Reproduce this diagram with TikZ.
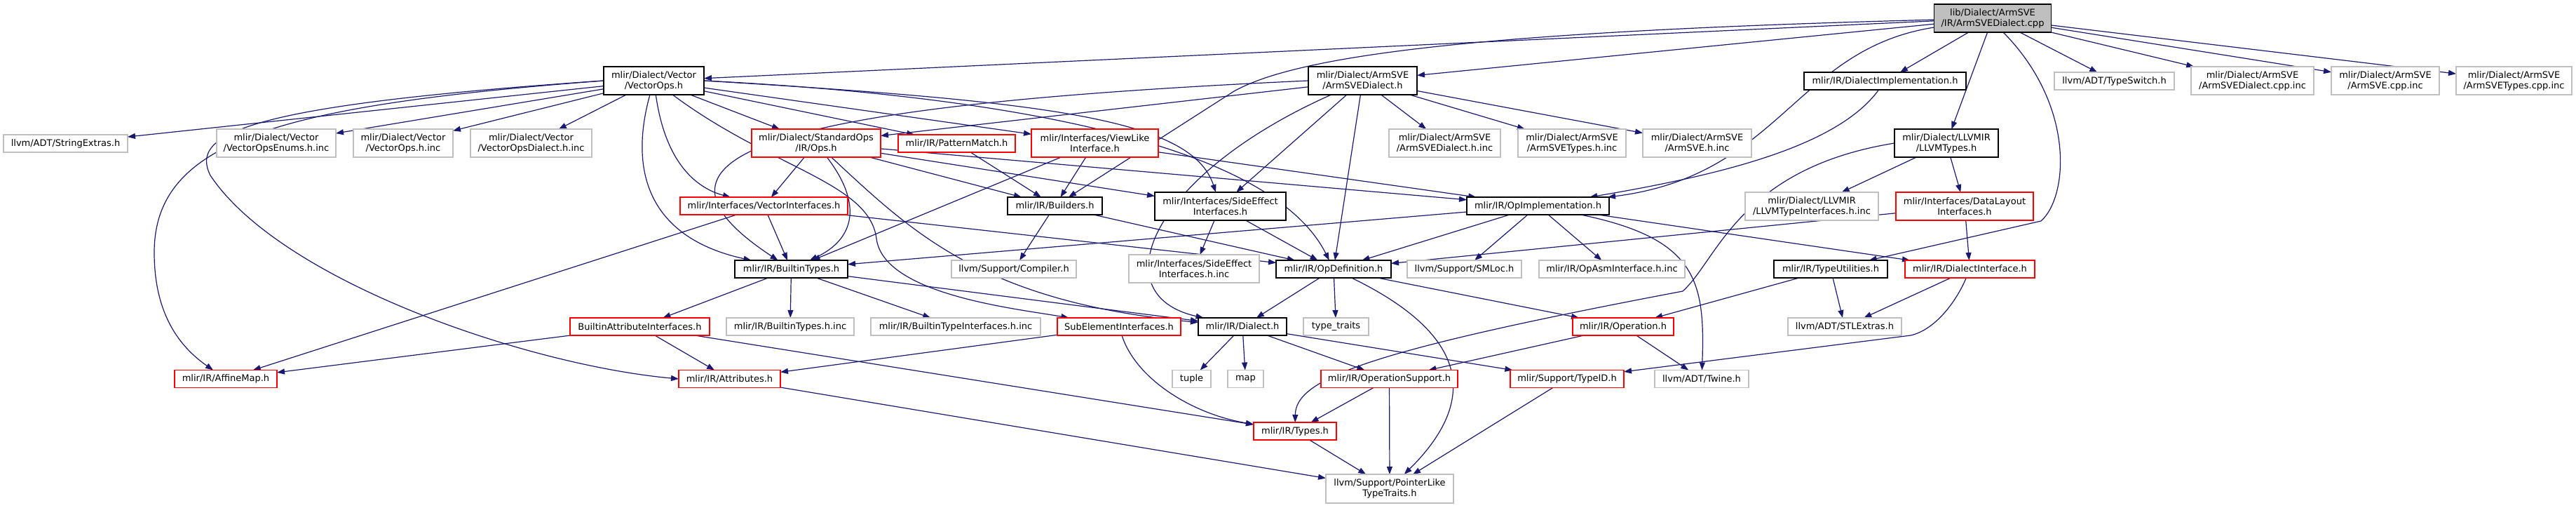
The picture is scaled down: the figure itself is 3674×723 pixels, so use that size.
\documentclass[tikz,border=0pt]{standalone}
\usepackage{fontspec}
\setsansfont{DejaVu Sans}
\usetikzlibrary{arrows.meta,backgrounds}
\definecolor{edgec}{HTML}{191970}
\definecolor{grayc}{HTML}{BFBFBF}
\definecolor{redc}{HTML}{FF0000}
\begin{document}
\begin{tikzpicture}[x=1pt,y=1pt,
  box/.style={fill=white, inner sep=0pt, outer sep=0pt, align=center,
    font=\sffamily\fontsize{13}{15}\selectfont},
  kbox/.style={box, draw=black, line width=1.5pt},
  rbox/.style={box, draw=redc, line width=1.5pt},
  gbox/.style={box, draw=grayc, line width=1.3pt},
  rootbox/.style={box, draw=black, fill=grayc, line width=1.5pt},
  one/.style={minimum height=25pt},
  two/.style={minimum height=40pt},
  e/.style={draw=edgec, line width=1.2pt, -{Triangle[length=11pt,width=8pt]}}
]
\useasboundingbox (0,0) rectangle (3674,-723);

% row 0
\node[rootbox, two, minimum width=167pt] (root) at (2842,-26) {lib/Dialect/ArmSVE\\/IR/ArmSVEDialect.cpp};
% row 1
\node[kbox, two, minimum width=143pt] (vops) at (932.5,-115) {mlir/Dialect/Vector\\/VectorOps.h};
\node[kbox, two, minimum width=155pt] (armh) at (1943.5,-115) {mlir/Dialect/ArmSVE\\/ArmSVEDialect.h};
\node[kbox, one, minimum width=231pt] (dimpl) at (2688.5,-115.5) {mlir/IR/DialectImplementation.h};
\node[gbox, one, minimum width=171pt] (tswitch) at (3015.5,-115.5) {llvm/ADT/TypeSwitch.h};
\node[gbox, two, minimum width=175pt] (cppa) at (3212.5,-115) {mlir/Dialect/ArmSVE\\/ArmSVEDialect.cpp.inc};
\node[gbox, two, minimum width=154pt] (cppb) at (3402,-115) {mlir/Dialect/ArmSVE\\/ArmSVE.cpp.inc};
\node[gbox, two, minimum width=165pt] (cppc) at (3585.5,-115) {mlir/Dialect/ArmSVE\\/ArmSVETypes.cpp.inc};
% row 2
\node[gbox, one, minimum width=177pt] (strext) at (93.5,-204.5) {llvm/ADT/StringExtras.h};
\node[gbox, two, minimum width=170pt] (enums) at (394,-204) {mlir/Dialect/Vector\\/VectorOpsEnums.h.inc};
\node[gbox, two, minimum width=142pt] (vopsinc) at (575,-204) {mlir/Dialect/Vector\\/VectorOps.h.inc};
\node[gbox, two, minimum width=173pt] (vdinc) at (757.5,-204) {mlir/Dialect/Vector\\/VectorOpsDialect.h.inc};
\node[rbox, two, minimum width=184pt] (ops) at (1164,-204) {mlir/Dialect/StandardOps\\/IR/Ops.h};
\node[rbox, one, minimum width=167pt] (pmatch) at (1364.5,-204.5) {mlir/IR/PatternMatch.h};
\node[rbox, two, minimum width=181pt] (viewlike) at (1561.5,-204) {mlir/Interfaces/ViewLike\\Interface.h};
\node[gbox, two, minimum width=159pt] (armdinc) at (2060.5,-204) {mlir/Dialect/ArmSVE\\/ArmSVEDialect.h.inc};
\node[gbox, two, minimum width=154pt] (armtinc) at (2242,-204) {mlir/Dialect/ArmSVE\\/ArmSVETypes.h.inc};
\node[gbox, two, minimum width=155pt] (armsinc) at (2420.5,-204) {mlir/Dialect/ArmSVE\\/ArmSVE.h.inc};
\node[kbox, two, minimum width=148pt] (llvmtypes) at (2776,-204) {mlir/Dialect/LLVMIR\\/LLVMTypes.h};
% row 3
\node[rbox, one, minimum width=239pt] (vint) at (1089.5,-293.5) {mlir/Interfaces/VectorInterfaces.h};
\node[kbox, one, minimum width=135pt] (builders) at (1504.5,-293.5) {mlir/IR/Builders.h};
\node[kbox, two, minimum width=187pt] (sideeff) at (1740.5,-294) {mlir/Interfaces/SideEffect\\Interfaces.h};
\node[kbox, one, minimum width=203pt] (opimpl) at (2193.5,-293.5) {mlir/IR/OpImplementation.h};
\node[gbox, two, minimum width=190pt] (llvmti) at (2584,-294) {mlir/Dialect/LLVMIR\\/LLVMTypeInterfaces.h.inc};
\node[rbox, two, minimum width=196pt] (datalayout) at (2802,-294) {mlir/Interfaces/DataLayout\\Interfaces.h};
% row 4
\node[kbox, one, minimum width=161pt] (btypes) at (1128.5,-383.5) {mlir/IR/BuiltinTypes.h};
\node[gbox, one, minimum width=178pt] (compiler) at (1446,-383.5) {llvm/Support/Compiler.h};
\node[gbox, two, minimum width=186pt] (sideinc) at (1703,-383) {mlir/Interfaces/SideEffect\\Interfaces.h.inc};
\node[kbox, one, minimum width=164pt] (opdef) at (1902,-383.5) {mlir/IR/OpDefinition.h};
\node[gbox, one, minimum width=163pt] (smloc) at (2088.5,-383.5) {llvm/Support/SMLoc.h};
\node[gbox, one, minimum width=208pt] (opasm) at (2299,-383.5) {mlir/IR/OpAsmInterface.h.inc};
\node[kbox, one, minimum width=162pt] (tutil) at (2611,-383.5) {mlir/IR/TypeUtilities.h};
\node[rbox, one, minimum width=185pt] (dint) at (2809.5,-383.5) {mlir/IR/DialectInterface.h};
% row 5
\node[rbox, one, minimum width=199pt] (bai) at (912.5,-465.5) {BuiltinAttributeInterfaces.h};
\node[gbox, one, minimum width=182pt] (btinc) at (1127,-465.5) {mlir/IR/BuiltinTypes.h.inc};
\node[gbox, one, minimum width=242pt] (btiinc) at (1363,-465.5) {mlir/IR/BuiltinTypeInterfaces.h.inc};
\node[rbox, one, minimum width=176pt] (subel) at (1596,-465.5) {SubElementInterfaces.h};
\node[kbox, one, minimum width=126pt] (dialect) at (1772,-465.5) {mlir/IR/Dialect.h};
\node[gbox, one, minimum width=93pt] (ttraits) at (1905.5,-465.5) {type\_traits};
\node[rbox, one, minimum width=144pt] (operation) at (2315,-465.5) {mlir/IR/Operation.h};
\node[gbox, one, minimum width=162pt] (stlext) at (2631,-465.5) {llvm/ADT/STLExtras.h};
% row 6
\node[rbox, one, minimum width=146pt] (affine) at (322,-540) {mlir/IR/AffineMap.h};
\node[rbox, one, minimum width=145pt] (attrs) at (1040.5,-540) {mlir/IR/Attributes.h};
\node[gbox, one, minimum width=55pt] (tuple) at (1699.5,-540) {tuple};
\node[gbox, one, minimum width=51pt] (map) at (1776.5,-540) {map};
\node[rbox, one, minimum width=195pt] (opsupport) at (1981.5,-540) {mlir/IR/OperationSupport.h};
\node[rbox, one, minimum width=162pt] (typeid) at (2235,-540) {mlir/Support/TypeID.h};
\node[gbox, one, minimum width=134pt] (twine) at (2427,-540) {llvm/ADT/Twine.h};
% row 7
\node[rbox, one, minimum width=118pt] (types) at (1847,-614.5) {mlir/IR/Types.h};
% row 8
\node[gbox, minimum height=41pt, minimum width=182pt] (ptrlike) at (1982,-696.5) {llvm/Support/PointerLike\\TypeTraits.h};

\begin{pgfonlayer}{background}
% ---- edges from root
\draw[e] (root) -- (vops);
\draw[e] (root) -- (armh);
\draw[e] (root) .. controls (2100,-45) and (1850,-80) .. (1760,-130) -- (builders);
\draw[e] (root) .. controls (2560,-70) and (2540,-250) .. (opimpl);
\draw[e] (root) -- (dimpl);
\draw[e] (root) -- (llvmtypes);
\draw[e] ([xshift=15pt]root.south) .. controls (2960,-150) and (2950,-280) .. (2911,-315) -- (tutil);
\draw[e] (root) -- (tswitch);
\draw[e] (root) -- (cppa);
\draw[e] (root) -- (cppb);
\draw[e] (root) -- (cppc);
% ---- VectorOps.h
\draw[e] (vops) -- (strext);
\draw[e] (vops) -- (enums);
\draw[e] (vops) -- (vopsinc);
\draw[e] (vops) -- (vdinc);
\draw[e] (vops.west) .. controls (400,-150) and (220,-200) .. (220,-360) .. controls (220,-440) and (250,-490) .. (affine);
\draw[e] (vops.west) .. controls (350,-150) and (270,-190) .. (300,-250) .. controls (400,-400) and (750,-520) .. (attrs.west);
\draw[e] (vops) -- (ops);
\draw[e] (vops) -- (pmatch);
\draw[e] (vops) -- (viewlike);
\draw[e] (vops) .. controls (950,-240) and (1000,-270) .. (vint);
\draw[e] (vops) .. controls (895,-250) and (930,-340) .. (btypes);
\draw[e] (vops) .. controls (1100,-240) and (1240,-260) .. (1250,-340) .. controls (1260,-420) and (1450,-440) .. (subel);
\draw[e] (vops.east) .. controls (1500,-145) and (1700,-170) .. (sideeff);
\draw[e] (vops.east) .. controls (1500,-140) and (1820,-220) .. (opdef);
% ---- ArmSVEDialect.h
\draw[e] (armh) -- (armdinc);
\draw[e] (armh) -- (armtinc);
\draw[e] (armh) -- (armsinc);
\draw[e] (armh) -- (ops);
\draw[e] (armh.west) .. controls (1100,-150) and (880,-220) .. (btypes);
\draw[e] (armh) -- (sideeff);
\draw[e] (armh) -- (opdef);
\draw[e] (armh) .. controls (1640,-250) and (1570,-420) .. (dialect);
% ---- Ops.h
\draw[e] (ops) -- (vint);
\draw[e] (ops) -- (builders);
\draw[e] (ops) -- (sideeff);
\draw[e] (ops) -- (opimpl);
\draw[e] (ops) .. controls (1230,-290) and (1220,-340) .. (btypes);
\draw[e] (ops) .. controls (1300,-330) and (1400,-430) .. (dialect);
% ---- others row 2
\draw[e] (pmatch) -- (builders);
\draw[e] (viewlike) -- (builders);
\draw[e] (viewlike) -- (btypes);
\draw[e] (viewlike) -- (opimpl);
\draw[e] (dimpl) .. controls (2620,-210) and (2450,-250) .. (opimpl);
\draw[e] (llvmtypes) -- (llvmti);
\draw[e] (llvmtypes) -- (datalayout);
\draw[e] (llvmtypes.west) .. controls (2480,-240) and (2450,-370) .. (2400,-415) .. controls (1950,-500) and (1848,-540) .. (types);
% ---- row 3
\draw[e] (vint) -- (affine);
\draw[e] (vint) -- (btypes);
\draw[e] (vint) -- (opdef);
\draw[e] (builders) -- (compiler);
\draw[e] (builders) -- (opdef);
\draw[e] (sideeff) -- (sideinc);
\draw[e] (sideeff) -- (opdef);
\draw[e] (opimpl) -- (btypes);
\draw[e] (opimpl) -- (opdef);
\draw[e] (opimpl) -- (smloc);
\draw[e] (opimpl) -- (opasm);
\draw[e] (opimpl) .. controls (2420,-340) and (2432,-400) .. (twine);
\draw[e] (opimpl) -- (dint);
\draw[e] (datalayout) -- (opdef);
\draw[e] (datalayout) -- (dint);
% ---- row 4
\draw[e] (btypes) -- (bai);
\draw[e] (btypes) -- (btinc);
\draw[e] (btypes) -- (btiinc);
\draw[e] (btypes) -- (dialect);
\draw[e] (opdef) -- (dialect);
\draw[e] (opdef) -- (ttraits);
\draw[e] (opdef) -- (operation);
\draw[e] (opdef) .. controls (2080,-470) and (2120,-560) .. (ptrlike);
\draw[e] (tutil) -- (operation);
\draw[e] (tutil) -- (stlext);
\draw[e] (dint) -- (stlext);
\draw[e] (dint) .. controls (2790,-430) and (2760,-470) .. (2725,-478) -- (typeid);
% ---- row 5
\draw[e] (bai) -- (affine);
\draw[e] (bai) -- (attrs);
\draw[e] (bai) -- (types);
\draw[e] (subel) -- (attrs);
\draw[e] (subel) .. controls (1620,-540) and (1700,-590) .. (types);
\draw[e] (dialect) -- (tuple);
\draw[e] (dialect) -- (map);
\draw[e] (dialect) -- (opsupport);
\draw[e] (dialect) -- (typeid);
\draw[e] (operation) -- (opsupport);
\draw[e] (operation) -- (twine);
% ---- row 6
\draw[e] (attrs) -- (ptrlike);
\draw[e] (opsupport) -- (types);
\draw[e] (opsupport) -- (ptrlike);
\draw[e] (typeid) -- (ptrlike);
\draw[e] (types) -- (ptrlike);
\end{pgfonlayer}
\end{tikzpicture}
\end{document}
